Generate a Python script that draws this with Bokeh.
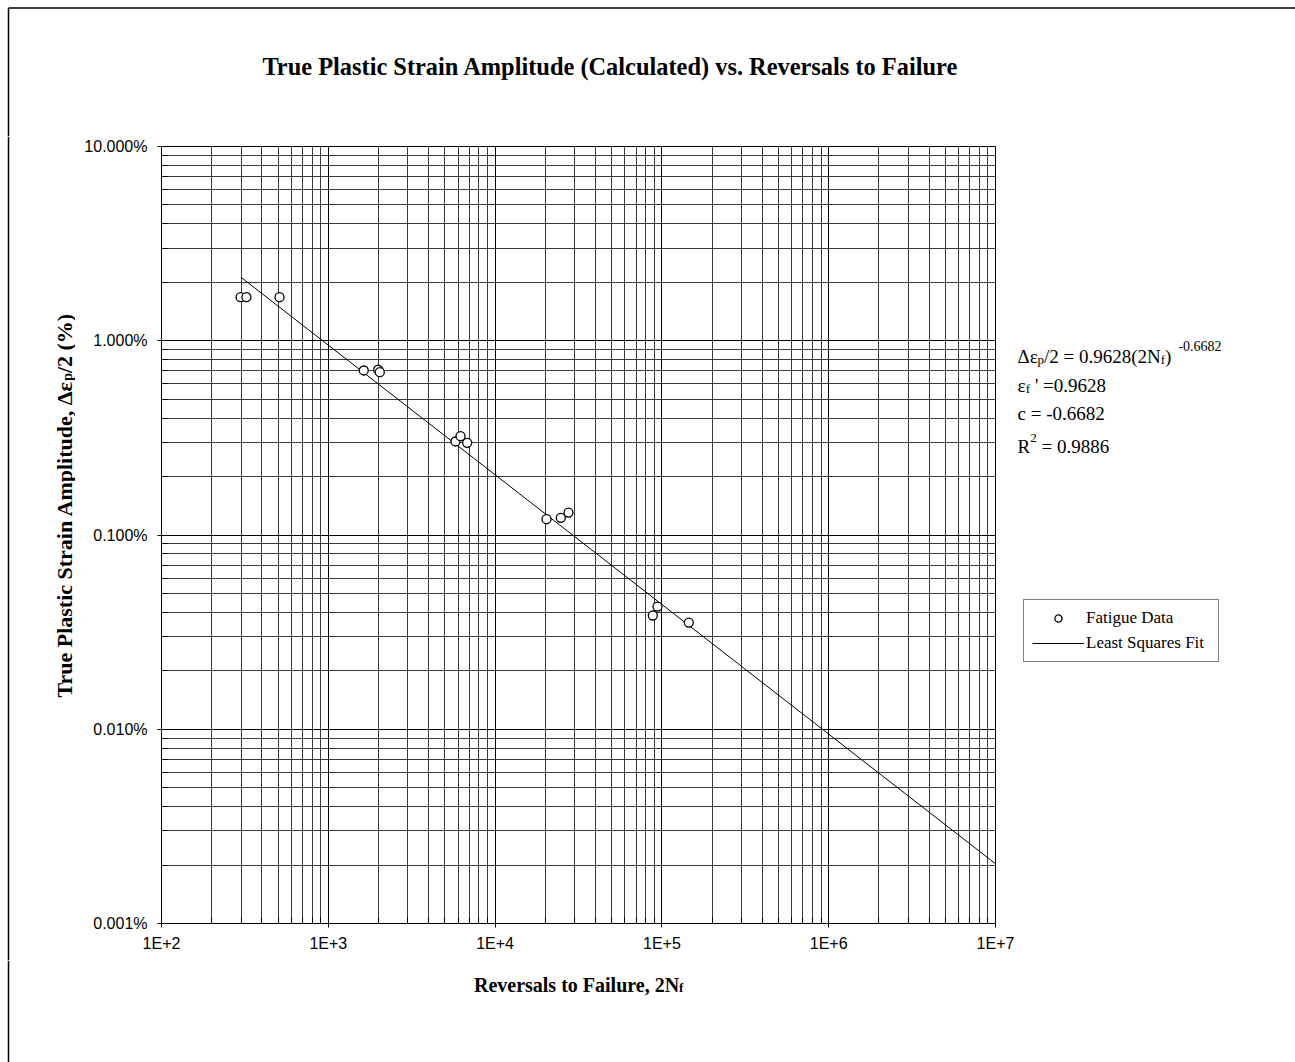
import math
from bokeh.plotting import figure
from bokeh.layouts import column, row
from bokeh.models import Legend, LegendItem, CustomJSTickFormatter, Range1d, Plot
from bokeh.core.properties import value
from bokeh.embed import file_html
from bokeh.resources import INLINE

# ---------------- data ----------------
reversals = [298, 323, 510, 1632, 1992, 2036, 5788, 6203, 6803,
             20330, 24770, 27540, 88200, 94100, 145000]
strain_amp = [0.01676, 0.01676, 0.01676, 0.00703, 0.00709, 0.00689,
              0.00303, 0.003226, 0.002983, 0.001206, 0.001226, 0.001305,
              0.000385, 0.000428, 0.000354]
fit_reversals = [300, 1e7]
fit_strain = [0.0212, 2.03e-5]

x_ticks = [1e2, 1e3, 1e4, 1e5, 1e6, 1e7]
x_tick_labels = ["1E+2", "1E+3", "1E+4", "1E+5", "1E+6", "1E+7"]
y_ticks = [1e-5, 1e-4, 1e-3, 1e-2, 1e-1]
y_tick_labels = ["0.001%", "0.010%", "0.100%", "1.000%", "10.000%"]

title_text = "True Plastic Strain Amplitude (Calculated) vs. Reversals to Failure"
legend_labels = ["Fatigue Data", "Least Squares Fit"]

# ---------------- page layout (page pixels) ----------------
PAGE_W, PAGE_H = 1295, 1062
MX0, MX1 = 75, 1015          # main figure canvas x extent
MY0, MY1 = 136, 960          # main figure canvas y extent
FX0, FX1 = 161, 995          # plot frame x extent
FY0, FY1 = 146, 923          # plot frame y extent

HAS_FA = "frame_align" in Plot.properties()

SERIF = "Liberation Serif"
SANS = "Liberation Sans"

REG = {' ': 250, "'": 180, '(': 333, ')': 333, '-': 333, '.': 250, '/': 278,
       '=': 564, 'N': 722, 'R': 667, 'c': 444, 'f': 333, 'p': 500,
       'Δ': 612, 'ε': 439}
BOLD = {' ': 250, ',': 250, '/': 278, '(': 333, ')': 333, '%': 1000,
        'A': 722, 'F': 611, 'N': 722, 'P': 611, 'R': 722, 'S': 556,
        'T': 667, 'a': 500, 'c': 444, 'd': 556, 'e': 444, 'f': 333,
        'i': 278, 'l': 278, 'm': 833, 'n': 556, 'o': 500, 'p': 556,
        'r': 444, 's': 389, 't': 333, 'u': 556, 'v': 500, 'Δ': 612, 'ε': 440}


def tw(text, size, bold=False):
    table = BOLD if bold else REG
    return sum(table.get(ch, 500) for ch in text) * size / 1000.0


def aux_fig(x0, x1, y0, y1, in_row=False):
    bt = bb = 0
    ry0, ry1 = y0, y1
    if in_row and not HAS_FA:
        bt, bb = FY0 - MY0, MY1 - FY1
        ry0, ry1 = FY0, FY1
    f = figure(width=x1 - x0, height=y1 - y0,
               x_range=Range1d(x0, x1), y_range=Range1d(ry1, ry0),
               x_axis_location=None, y_axis_location=None,
               output_backend="svg", toolbar_location=None,
               min_border_left=0, min_border_right=0,
               min_border_top=bt, min_border_bottom=bb)
    if HAS_FA:
        f.frame_align = False
    f.outline_line_color = None
    f.background_fill_color = "white"
    f.border_fill_color = "white"
    f.grid.visible = False
    f.title.visible = False
    return f


def txt(f, x, y, s, size, bold=False, angle=0.0, align="left"):
    f.text(x=[x], y=[y], text=[s], text_font=value(SERIF),
           text_font_size=value(f"{size}px"),
           text_font_style=value("bold" if bold else "normal"),
           text_align=value(align), text_baseline=value("alphabetic"),
           angle=angle, text_color="black")


# ---------------- main log-log plot ----------------
p = figure(width=MX1 - MX0, height=MY1 - MY0,
           x_axis_type="log", y_axis_type="log",
           x_range=Range1d(1e2, 1e7), y_range=Range1d(1e-5, 1e-1),
           output_backend="svg", toolbar_location=None,
           min_border_left=FX0 - MX0, min_border_right=MX1 - FX1,
           min_border_top=FY0 - MY0, min_border_bottom=MY1 - FY1)
if HAS_FA:
    p.frame_align = False
p.title.visible = False
p.background_fill_color = "white"
p.border_fill_color = "white"
p.outline_line_color = "black"
p.outline_line_width = 1

for g in (p.xgrid, p.ygrid):
    g.grid_line_color = "black"
    g.grid_line_width = 1
    g.minor_grid_line_color = "#3a3a3a"
    g.minor_grid_line_width = 1

for ax in (p.xaxis, p.yaxis):
    ax.axis_line_color = "black"
    ax.major_tick_line_color = "black"
    ax.minor_tick_line_color = "black"
    ax.major_tick_in = 6
    ax.major_tick_out = 4
    ax.minor_tick_in = 6
    ax.minor_tick_out = 0
    ax.major_label_text_font = SANS
    ax.major_label_text_font_size = "16px"
    ax.major_label_text_color = "black"

p.xaxis.major_label_standoff = 7
p.yaxis.major_label_standoff = 10

fmt_code = """
for (let i = 0; i < tvals.length; i++) {
  if (Math.abs(Math.log10(tick) - Math.log10(tvals[i])) < 1e-6) return tnames[i];
}
return "";
"""
p.xaxis.formatter = CustomJSTickFormatter(args=dict(tvals=x_ticks, tnames=x_tick_labels), code=fmt_code)
p.yaxis.formatter = CustomJSTickFormatter(args=dict(tvals=y_ticks, tnames=y_tick_labels), code=fmt_code)

p.line(fit_reversals, fit_strain, line_color="black", line_width=1)
p.scatter(reversals, strain_amp, marker="circle", size=9,
          fill_color="white", line_color="black", line_width=1.3)

# ---------------- title strip ----------------
top = aux_fig(0, PAGE_W, 0, MY0)
top.segment(x0=[8, 8], y0=[7.5, 7.5], x1=[PAGE_W, 8], y1=[7.5, MY0],
            line_color="black", line_width=1.5)
txt(top, 610, 66, title_text, 24.4, bold=True, align="center")

# ---------------- y-axis title strip ----------------
left = aux_fig(0, MX0, MY0, MY1, in_row=True)
left.segment(x0=[8], y0=[MY0], x1=[8], y1=[MY1], line_color="black", line_width=1.5)
YS = 22
yl1, yl2, yl3 = "True Plastic Strain Amplitude, Δε", "p", "/2 (%)"
w1, w2, w3 = tw(yl1, YS, True), tw(yl2, 14, True), tw(yl3, YS, True)
yc = 506
joint = yc + (w1 + w2 + w3) / 2 - w1     # end of the first piece
bx = 64
txt(left, bx, joint, yl1, YS, bold=True, angle=math.pi / 2, align="right")
txt(left, bx + 3, joint, yl2, 14, bold=True, angle=math.pi / 2, align="left")
txt(left, bx, joint - w2, yl3, YS, bold=True, angle=math.pi / 2, align="left")

# ---------------- right strip: equation + legend ----------------
right = aux_fig(MX1, PAGE_W, MY0, MY1, in_row=True)
ES, SS = 19, 13
SP = tw(" ", ES)
ex = 1017
b1, b2, b3, b4 = 356, 385, 413, 446
cx = ex
txt(right, cx, b1, "Δε", ES); cx += tw("Δε", ES)
txt(right, cx, b1 + 3, "p", SS); cx += tw("p", SS)
txt(right, cx, b1, "/2 = 0.9628(2N", ES); cx += tw("/2 = 0.9628(2N", ES)
txt(right, cx, b1 + 3, "f", SS); cx += tw("f", SS)
txt(right, cx, b1, ")", ES); cx += tw(")", ES)
txt(right, cx + 7, b1 - 11, "-0.6682", 14)
cx = ex
txt(right, cx, b2, "ε", ES); cx += tw("ε", ES)
txt(right, cx, b2 + 3, "f", SS); cx += tw("f", SS) + SP
txt(right, cx, b2, "' =0.9628", ES)
txt(right, ex, b3, "c = -0.6682", ES)
cx = ex
txt(right, cx, b4, "R", ES); cx += tw("R", ES)
txt(right, cx, b4 - 9, "2", SS); cx += tw("2", SS) + SP
txt(right, cx, b4, "= 0.9886", ES)

# legend proxies: one point each, far outside the strip's visible range
lg_pts = right.scatter([-1e6], [-1e6], marker="circle", size=9, fill_color="white",
                       line_color="black", line_width=1.3)
lg_fit = right.line([-1e6, -1e6 + 1], [-1e6, -1e6], line_color="black", line_width=1)
frame_bottom = MY1 if HAS_FA else FY1
legend = Legend(items=[LegendItem(label=legend_labels[0], renderers=[lg_pts]),
                       LegendItem(label=legend_labels[1], renderers=[lg_fit])],
                location=(1023 - MX1, frame_bottom - 662),
                orientation="vertical",
                border_line_color="black", border_line_width=1,
                background_fill_color="white", background_fill_alpha=1,
                label_text_font=SERIF, label_text_font_size="17px",
                label_text_color="black",
                glyph_width=52, glyph_height=18, label_height=18,
                label_standoff=2, spacing=5, padding=8, margin=0,
                label_width=124)
right.add_layout(legend)

# ---------------- x-axis title strip ----------------
bottom = aux_fig(0, PAGE_W, MY1, PAGE_H)
bottom.segment(x0=[8], y0=[MY1], x1=[8], y1=[PAGE_H], line_color="black", line_width=1.5)
xl_main, xl_sub = "Reversals to Failure, 2N", "f"
xj = (FX0 + FX1) / 2 - (tw(xl_main, 20, True) + tw(xl_sub, 13, True)) / 2 + tw(xl_main, 20, True)
txt(bottom, xj, 984, xl_main, 20, bold=True, align="right")
txt(bottom, xj, 987, xl_sub, 13, bold=True, align="left")

layout = column(top, row(left, p, right), bottom)
open("out.html", "w").write(file_html(layout, INLINE))
